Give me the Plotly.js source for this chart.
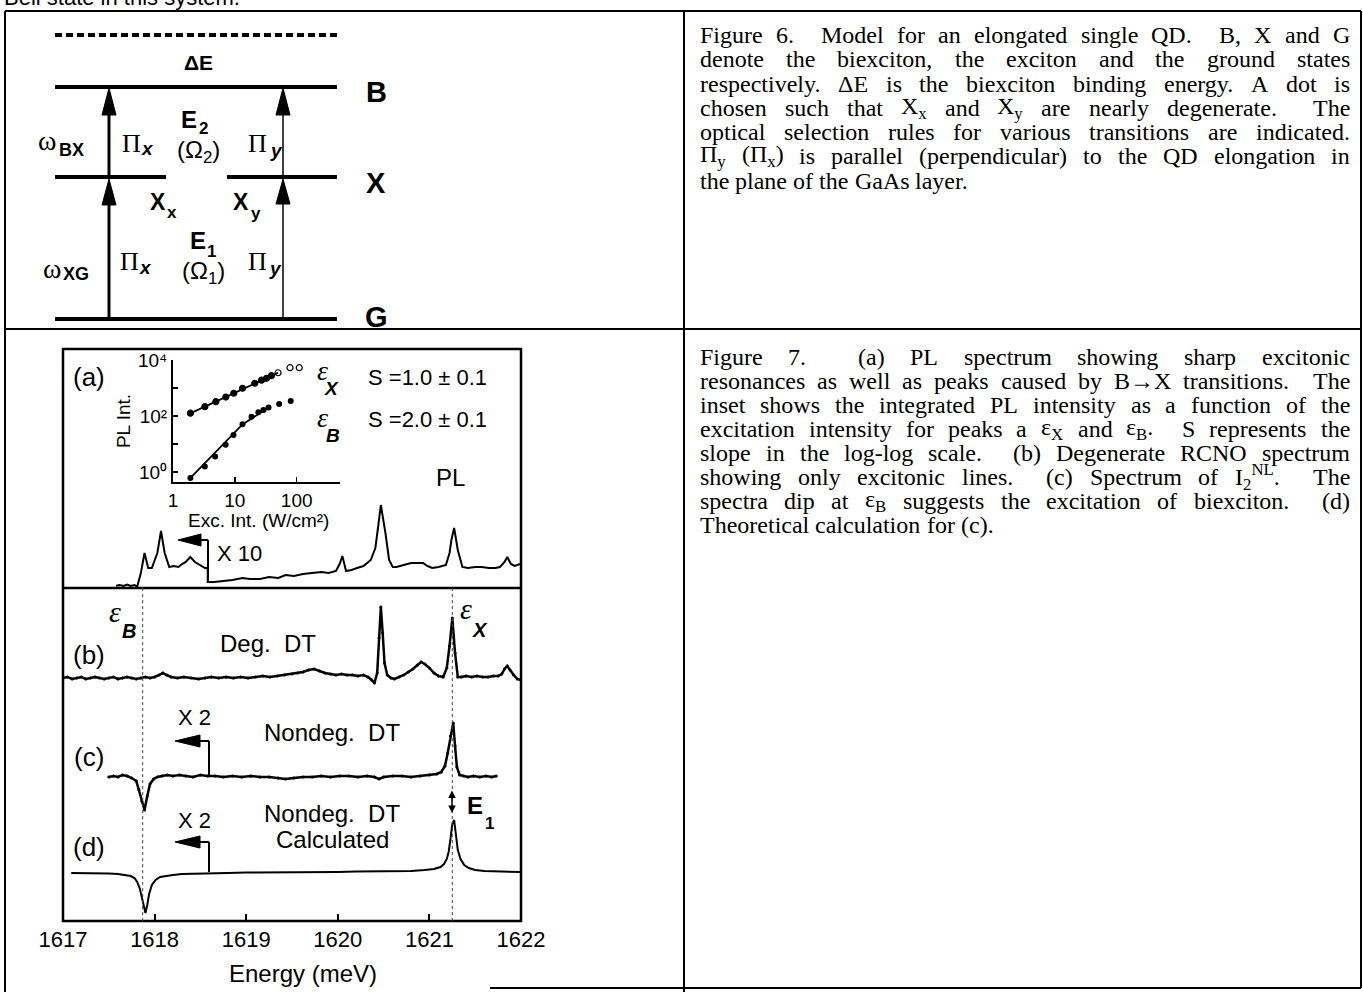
<!DOCTYPE html>
<html><head><meta charset="utf-8">
<script src="https://cdn.plot.ly/plotly-3.0.1.min.js"></script>
<style>html,body{margin:0;padding:0;background:#fff;}#chart{width:1363px;height:992px;}</style>
</head><body><div id="chart"></div>
<script>
// ---------------- DATA ----------------
const energyTicks = [1617, 1618, 1619, 1620, 1621, 1622];
const epsB = 1617.87, epsX = 1621.25;

// (a) PL spectrum (arb. units, X10 left of 1618.58)
const plE = [1617.58,1617.62,1617.66,1617.70,1617.74,1617.78,1617.81,1617.85,1617.89,1617.93,
             1617.97,1618.03,1618.07,1618.11,1618.16,1618.21,1618.26,1618.30,1618.34,1618.39,
             1618.44,1618.50,1618.55,1618.58,1618.58,1618.65,1618.75,1618.85,1618.96,1619.04,
             1619.15,1619.25,1619.35,1619.43,1619.52,1619.62,1619.72,1619.82,1619.90,1619.98,
             1620.02,1620.05,1620.09,1620.15,1620.21,1620.28,1620.36,1620.41,1620.44,1620.47,
             1620.52,1620.56,1620.60,1620.64,1620.72,1620.80,1620.87,1620.93,1620.98,1621.03,
             1621.10,1621.18,1621.22,1621.24,1621.27,1621.31,1621.36,1621.42,1621.50,1621.57,
             1621.65,1621.72,1621.77,1621.82,1621.85,1621.89,1621.93,1621.99];
const plV = [2.3,3,2,3.5,2,3,1.3,15,35,20,
             20,35,57,35,21,22,21,24,26,31,
             26,23,20,20,6,6,7,8,10,9,
             9,11,10,13,12,14,15,16,15,17,
             24,32,17,18,20,22,28,40,61,83,
             55,28,21,21,23,25,25,25,22,20,
             21,23,35,48,60,38,21,20,21,21,
             20,20,21,26,31,24,22,24];

// (b) Degenerate DT
const degE = [1617.00,1617.05,1617.10,1617.15,1617.20,1617.25,1617.30,1617.35,1617.40,1617.45,
              1617.50,1617.55,1617.60,1617.65,1617.70,1617.75,1617.80,1617.85,1617.90,1617.95,
              1618.00,1618.05,1618.09,1618.13,1618.18,1618.25,1618.32,1618.40,1618.48,1618.55,
              1618.62,1618.70,1618.78,1618.86,1618.94,1619.02,1619.10,1619.18,1619.26,1619.34,
              1619.42,1619.50,1619.56,1619.62,1619.68,1619.74,1619.80,1619.86,1619.92,1619.98,
              1620.04,1620.10,1620.16,1620.22,1620.28,1620.33,1620.37,1620.40,1620.43,1620.45,
              1620.47,1620.49,1620.51,1620.54,1620.58,1620.62,1620.67,1620.72,1620.77,1620.82,
              1620.87,1620.91,1620.95,1621.00,1621.05,1621.10,1621.15,1621.19,1621.22,1621.25,
              1621.28,1621.31,1621.35,1621.40,1621.46,1621.52,1621.58,1621.64,1621.70,1621.75,
              1621.79,1621.82,1621.85,1621.88,1621.92,1621.96,1622.00];
const degV = [0,1,-1,0,1,-1,0,1,0,-1,
              0,1,-1,0,1,0,-1,0,1,0,
              1,3,5,3,1,0,1,0,-1,0,
              1,0,1,0,1,0,1,2,1,2,
              3,4,5,6,8,9,7,5,4,3,
              4,3,3,2,3,1,-2,-5,5,40,
              71,45,15,3,0,-1,1,3,6,9,
              13,16,14,10,5,2,1,10,32,60,
              25,1,1,2,1,2,1,1,2,2,
              4,9,12,8,3,-1,-2];

// (c) Nondegenerate DT (X2 left of 1618.6)
const ndE = [1617.50,1617.55,1617.60,1617.65,1617.70,1617.75,1617.80,1617.83,1617.86,1617.89,
             1617.92,1617.95,1617.99,1618.03,1618.08,1618.14,1618.20,1618.27,1618.34,1618.42,
             1618.50,1618.58,1618.66,1618.75,1618.85,1618.95,1619.05,1619.15,1619.25,1619.35,
             1619.43,1619.52,1619.62,1619.72,1619.82,1619.92,1620.02,1620.12,1620.22,1620.32,
             1620.40,1620.45,1620.50,1620.60,1620.70,1620.80,1620.90,1621.00,1621.08,1621.13,
             1621.17,1621.20,1621.23,1621.26,1621.28,1621.30,1621.33,1621.37,1621.42,1621.48,
             1621.55,1621.62,1621.68,1621.73];
const ndV = [-1,0,-1,1,0,-2,-5,-14,-25,-34,
             -20,-8,-3,-1,0,1,0,1,0,-1,
             1,0,0,-1,0,-1,0,-1,-1,-2,
             -3,-2,-1,-1,0,-1,0,0,-1,0,
             -1,-3,-1,0,0,-1,0,1,2,4,
             10,23,40,53,30,9,1,0,-1,0,
             -1,0,-1,0];

// (d) Calculated nondegenerate DT
const calcE = [1617.09,1617.20,1617.30,1617.40,1617.50,1617.60,1617.68,1617.74,1617.78,1617.81,
               1617.84,1617.86,1617.88,1617.89,1617.90,1617.92,1617.94,1617.97,1618.01,1618.06,
               1618.12,1618.20,1618.30,1618.45,1618.60,1618.80,1619.00,1619.20,1619.40,1619.60,
               1619.80,1620.00,1620.20,1620.40,1620.60,1620.80,1620.95,1621.05,1621.12,1621.16,
               1621.19,1621.21,1621.23,1621.25,1621.27,1621.29,1621.31,1621.34,1621.38,1621.43,
               1621.50,1621.60,1621.75,1622.00];
const calcV = [-1,-1,-1,-1.5,-1.5,-2,-3,-4,-6,-10,
               -17,-25,-35,-40,-41,-33,-22,-13,-8,-5,
               -4,-3,-2,-1.5,-1,-1,-0.5,-0.5,-0.5,0,
               0,0,0.5,0.5,1,1,2,3,5,8,
               13,20,33,48,52,38,22,13,7,4,
               2,1,0.5,0];

// Inset: integrated PL vs excitation intensity
const excX = [1.91,3.27,4.92,7.14,9.6,13.3,21,27,32.5,39,50,78,110];
const plX  = [126,215,325,476,650,980,1480,1910,2220,2750,3500,5300,5300];
const excB = [1.91,3.27,4.8,7.1,9.5,13.3,18.6,24,29,35,52,80];
const plB  = [0.61,1.58,3.6,9.4,21,51,95,136,165,200,270,345];
const fitXexc = [1.9, 50], fitXpl = [124, 3500];
const fitBexc = [1.9, 13.3, 36], fitBpl = [0.6, 50, 210];
const insetXTicks = [1, 10, 100], insetXLabels = ['1', '10', '100'];
const insetYTicks = [1, 10, 100, 1000, 10000], insetYLabels = ['10⁰', '', '10²', '', '10⁴'];

// captions
const fig6Lines = [
 "Figure 6.  Model for an elongated single QD.  B, X and G",
 "denote the biexciton, the exciton and the ground states",
 "respectively. ΔE is the biexciton binding energy. A dot is",
 "chosen such that X<sub>x</sub> and X<sub>y</sub> are nearly degenerate.  The",
 "optical selection rules for various transitions are indicated.",
 "Π<sub>y</sub> (Π<sub>x</sub>) is parallel (perpendicular) to the QD elongation in",
 "the plane of the GaAs layer."];
const fig7Lines = [
 "Figure 7.  (a) PL spectrum showing sharp excitonic",
 "resonances as well as peaks caused by B→X transitions.  The",
 "inset shows the integrated PL intensity as a function of the",
 "excitation intensity for peaks a ε<sub>X</sub> and ε<sub>B</sub>.  S represents the",
 "slope in the log-log scale.  (b) Degenerate RCNO spectrum",
 "showing only excitonic lines.  (c) Spectrum of I<sub>2</sub><sup>NL</sup>.  The",
 "spectra dip at ε<sub>B</sub> suggests the excitation of biexciton.  (d)",
 "Theoretical calculation for (c)."];

// ---------------- LAYOUT HELPERS ----------------
const W = 1363, H = 992;
const px = x => x / W, py = y => 1 - y / H;
const SANS = "Liberation Sans, Arial, Helvetica, sans-serif";
const SERIF = "Liberation Serif, Times New Roman, serif";
const shapes = [], annotations = [];
function line(x0, y0, x1, y1, w, dash) {
  shapes.push({type:'line', xref:'paper', yref:'paper', x0:px(x0), y0:py(y0), x1:px(x1), y1:py(y1),
    line:{color:'#000', width:w, dash:dash || 'solid'}});
}
function tri(pts) {
  const d = 'M' + pts.map(p => px(p[0]) + ',' + py(p[1])).join(' L') + ' Z';
  shapes.push({type:'path', xref:'paper', yref:'paper', path:d, fillcolor:'#000', line:{color:'#000', width:1}});
}
function txt(x, y, t, size, o) {
  annotations.push(Object.assign({xref:'paper', yref:'paper', x:px(x), y:py(y), text:t, showarrow:false,
    xanchor:'center', yanchor:'middle', borderpad:0,
    font:{family:SANS, size:size, color:'#000'}}, o || {}));
}
function serif(x, y, t, size, o) { txt(x, y, t, size, Object.assign({font:{family:SERIF, size:size, color:'#000'}}, o || {})); }

// ---------------- TABLE ----------------
line(5, 11, 1361, 11, 2);
line(5, 11, 5, 992, 2);
line(684, 11, 684, 992, 2);
line(5, 329, 1361, 329, 2);
line(1361, 11, 1361, 988, 2);
line(490, 988, 1361, 988, 2);
txt(3, -3, 'Bell state in this system.', 22, {xanchor:'left'});

// ---------------- FIGURE 6 DIAGRAM ----------------
line(55, 35, 337, 35, 4, '7px,4px');
line(55, 87, 337, 87, 4);
line(55, 177, 166, 177, 4);
line(227, 177, 337, 177, 4);
line(55, 319, 337, 319, 4);
// arrows
line(109, 319, 109, 200, 3); tri([[109,179],[102,205],[116,205]]);
line(109, 177, 109, 110, 3); tri([[109,88],[102,115],[116,115]]);
line(283, 319, 283, 200, 1.5); tri([[283,179],[276,204],[290,204]]);
line(283, 177, 283, 110, 1.5); tri([[283,88],[276,115],[290,115]]);
txt(198, 63, '<b>ΔE</b>', 21);
txt(376, 92, '<b>B</b>', 29); txt(376, 183, '<b>X</b>', 29); txt(376, 317, '<b>G</b>', 29);
serif(47, 140, 'ω', 28); txt(71, 150, '<b>BX</b>', 18);
serif(131, 143, 'Π', 26); txt(147, 149, '<b><i>x</i></b>', 19);
txt(189, 119, '<b>E</b>', 24); txt(203, 129, '<b>2</b>', 17);
txt(198, 151, '(Ω<sub>2</sub>)', 24);
serif(257, 143, 'Π', 26); txt(276, 150, '<b><i>y</i></b>', 19);
txt(158, 202, '<b>X</b>', 23); txt(172, 212, '<b>x</b>', 17);
txt(241, 202, '<b>X</b>', 23); txt(256, 214, '<b>y</b>', 17);
serif(52, 268, 'ω', 28); txt(76, 274, '<b>XG</b>', 18);
serif(129, 261, 'Π', 26); txt(145, 267, '<b><i>x</i></b>', 19);
txt(198, 241, '<b>E</b>', 24); txt(211, 251, '<b>1</b>', 17);
txt(203, 273, '(Ω<sub>1</sub>)', 24);
serif(257, 261, 'Π', 26); txt(275, 268, '<b><i>y</i></b>', 19);

// ---------------- CAPTIONS (justified) ----------------
const ctx = document.createElement('canvas').getContext('2d');
function measure(html, size) {
  let w = 0; const re = /<(sub|sup)>(.*?)<\/\1>|([^<]+)/g; let m;
  while ((m = re.exec(html))) {
    if (m[3] !== undefined) { ctx.font = size + "px 'Liberation Serif'"; w += ctx.measureText(m[3]).width; }
    else { ctx.font = (size * 0.7) + "px 'Liberation Serif'"; w += ctx.measureText(m[2]).width; }
  }
  return w;
}
function justify(lines, x0, x1, y0, dy, size) {
  const spaceW = measure(' ', size);
  lines.forEach((ln, i) => {
    const y = y0 + i * dy;
    const toks = ln.split(/( +)/).filter(t => t.length);
    const words = [], gaps = []; let pend = 0;
    toks.forEach(t => {
      if (/^ +$/.test(t)) pend += t.length;
      else { if (words.length) gaps.push(pend); words.push(t); pend = 0; }
    });
    const widths = words.map(w => measure(w, size));
    const sumW = widths.reduce((a, b) => a + b, 0);
    const totG = gaps.reduce((a, b) => a + b, 0);
    const last = i === lines.length - 1;
    const unit = (last || !totG) ? spaceW : (x1 - x0 - sumW) / totG;
    let x = x0;
    words.forEach((w, k) => {
      annotations.push({xref:'paper', yref:'paper', x:px(x), y:py(y), text:w, showarrow:false,
        xanchor:'left', yanchor:'middle', borderpad:0, font:{family:SERIF, size:size, color:'#000'}});
      x += widths[k] + (k < gaps.length ? gaps[k] * unit : 0);
    });
  });
}
justify(fig6Lines, 699, 1349, 35, 24.3, 24);
justify(fig7Lines, 699, 1349, 357, 24.0, 24);

// ---------------- FIGURE 7 CHART DECORATIONS ----------------
const BX0 = 63, BX1 = 521, BY0 = 349, BSEP = 588, BY1 = 921;
shapes.push({type:'rect', xref:'paper', yref:'paper', x0:px(BX0), x1:px(BX1), y0:py(BY1), y1:py(BY0),
  line:{color:'#000', width:2.5}});
line(BX0, BSEP, BX1, BSEP, 2.5);
[epsB, epsX].forEach(e => shapes.push({type:'line', xref:'x', yref:'paper', x0:e, x1:e, y0:py(BY1), y1:py(BSEP),
  line:{color:'#444', width:1, dash:'dot'}}));
// X10 / X2 markers
line(208, 582, 208, 540, 2); line(208, 540, 196, 540, 2); tri([[178,540],[201,534],[201,546]]);
txt(216, 553, 'X 10', 22, {xanchor:'left'});
line(209, 776, 209, 741, 2); line(209, 741, 196, 741, 2); tri([[175,741],[200,735],[200,747]]);
txt(195, 717, 'X 2', 22);
line(209, 872, 209, 842, 2); line(209, 842, 196, 842, 2); tri([[175,842],[200,836],[200,848]]);
txt(195, 820, 'X 2', 22);

txt(89, 377, '(a)', 26);
txt(450, 477, 'PL', 24);
txt(427, 377, 'S =1.0 ± 0.1', 22);
txt(427, 420, 'S =2.0 ± 0.1', 22);
serif(322, 370, '<i>ε</i>', 28); txt(331, 388, '<b><i>X</i></b>', 19);
serif(322, 417, '<i>ε</i>', 28); txt(333, 435, '<b><i>B</i></b>', 19);
txt(258, 520, 'Exc. Int. (W/cm²)', 19);

serif(115, 611, '<i>ε</i>', 30); txt(129, 631, '<b><i>B</i></b>', 20);
serif(466, 608, '<i>ε</i>', 30); txt(480, 630, '<b><i>X</i></b>', 20);
txt(89, 655, '(b)', 26);
txt(268, 643, 'Deg.  DT', 24);
txt(89, 757, '(c)', 26);
txt(332, 732, 'Nondeg.  DT', 24);
txt(89, 847, '(d)', 26);
txt(332, 813, 'Nondeg.  DT', 24);
txt(332, 839, 'Calculated', 24);
txt(475, 805, '<b>E</b>', 24); txt(489, 823, '<b>1</b>', 17);
annotations.push({xref:'paper', yref:'paper', x:px(452), y:py(813), ax:0, ay:-31, axref:'pixel', ayref:'pixel',
  text:' ', showarrow:true, arrowhead:2, startarrowhead:2, arrowside:'end+start', arrowsize:1, arrowwidth:1.5, arrowcolor:'#000'});
txt(303, 973, 'Energy (meV)', 24);

// ---------------- TRACES ----------------
const OFF_B = 243, OFF_C = 145, OFF_D = 49;
const blk = '#000';
const traces = [
  {x: plE, y: plV, xaxis:'x', yaxis:'y2', mode:'lines', line:{color:blk, width:2}, name:'PL'},
  {x: degE, y: degV.map(v => v + OFF_B), xaxis:'x', yaxis:'y', mode:'lines+markers',
   line:{color:blk, width:2.5}, marker:{color:blk, size:3}, name:'Deg. DT'},
  {x: ndE, y: ndV.map(v => v + OFF_C), xaxis:'x', yaxis:'y', mode:'lines+markers',
   line:{color:blk, width:2.5}, marker:{color:blk, size:3}, name:'Nondeg. DT'},
  {x: calcE, y: calcV.map(v => v + OFF_D), xaxis:'x', yaxis:'y', mode:'lines',
   line:{color:blk, width:2}, name:'Calculated'},
  {x: fitXexc, y: fitXpl, xaxis:'x3', yaxis:'y3', mode:'lines', line:{color:blk, width:1.8}},
  {x: fitBexc, y: fitBpl, xaxis:'x3', yaxis:'y3', mode:'lines', line:{color:blk, width:1.8}},
  {x: excX, y: plX, xaxis:'x3', yaxis:'y3', mode:'markers',
   marker:{color:blk, size:6, symbol: excX.map((v, i) => i >= 10 ? 'circle-open' : 'circle'), line:{width:1.2, color:blk}}},
  {x: excB, y: plB, xaxis:'x3', yaxis:'y3', mode:'markers', marker:{color:blk, size:6}}
];

const layout = {
  width: W, height: H, margin:{l:0, r:0, t:0, b:0}, autosize:false, showlegend:false,
  paper_bgcolor:'#fff', plot_bgcolor:'rgba(0,0,0,0)',
  font:{family:SANS, color:'#000'},
  xaxis:{domain:[px(BX0), px(BX1)], range:[1617, 1622], anchor:'y', tickvals:energyTicks,
    ticktext:energyTicks.map(String), ticks:'inside', ticklen:7, tickwidth:2, tickcolor:'#000',
    showline:false, showgrid:false, zeroline:false, tickfont:{size:22, family:SANS}, ticklabelstandoff:3},
  yaxis:{domain:[py(BY1), py(BSEP)], range:[0, 333], visible:false, anchor:'x'},
  yaxis2:{domain:[py(BSEP), py(BY0)], range:[0, 239], visible:false, anchor:'x'},
  xaxis3:{type:'log', domain:[px(173), px(340)], range:[0, 2.70], anchor:'y3',
    showline:true, linewidth:2, linecolor:'#000', ticks:'inside', ticklen:5, tickwidth:1.5, tickcolor:'#000',
    tickvals:insetXTicks, ticktext:insetXLabels, tickfont:{size:19}, showgrid:false, zeroline:false, ticklabelstandoff:0},
  yaxis3:{type:'log', domain:[py(482), py(360)], range:[-0.356, 4], anchor:'x3',
    showline:true, linewidth:2, linecolor:'#000', ticks:'inside', ticklen:5, tickwidth:1.5, tickcolor:'#000',
    tickvals:insetYTicks, ticktext:insetYLabels,
    tickfont:{size:19}, showgrid:false, zeroline:false,
    title:{text:'PL Int.', font:{size:19}, standoff:2}},
  shapes: shapes, annotations: annotations
};
Plotly.newPlot('chart', traces, layout, {displayModeBar:false, staticPlot:true});
</script></body></html>
